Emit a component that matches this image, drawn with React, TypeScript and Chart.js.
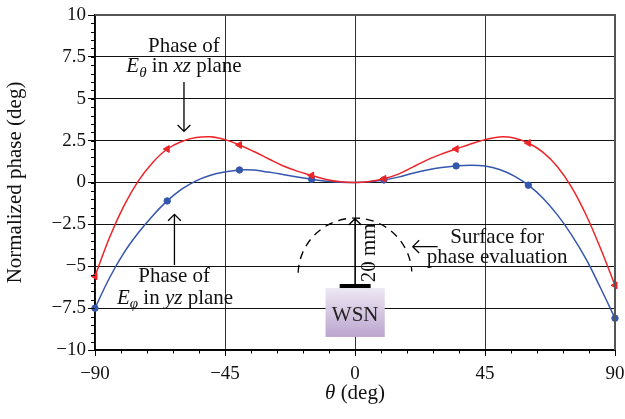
import React, { useEffect, useRef } from 'react';
import { Chart, registerables } from 'chart.js';

Chart.register(...registerables);

// ---- data ----
const thetaDeg = [
  -90, -85, -80, -75, -70, -65, -60, -55, -50, -45, -40, -35, -30, -25, -20, -15, -10, -5, 0,
  5, 10, 15, 20, 25, 30, 35, 40, 45, 50, 55, 60, 65, 70, 75, 80, 85, 90,
];
const phaseEthetaXZ = [
  -5.6, -3.3, -1.4, 0.1, 1.2, 2.0, 2.45, 2.68, 2.73, 2.56, 2.24, 1.85, 1.42, 1.0, 0.68, 0.42, 0.18, 0.04, 0,
  0.06, 0.22, 0.5, 0.92, 1.35, 1.7, 2.0, 2.3, 2.56, 2.72, 2.66, 2.36, 1.81, 0.96, -0.29, -1.94, -3.94, -6.14,
];
const phaseEphiYZ = [
  -7.5, -5.7, -4.2, -3.0, -1.98, -1.1, -0.4, 0.1, 0.43, 0.63, 0.75, 0.74, 0.62, 0.48, 0.33, 0.19, 0.08, 0.02, 0,
  0.04, 0.15, 0.32, 0.55, 0.75, 0.9, 0.99, 1.03, 0.98, 0.78, 0.4, -0.16, -0.92, -1.92, -3.14, -4.58, -6.3, -8.1,
];
const markerThetas = [-90, -65, -40, -15, 10, 35, 60, 90];

const xMin = -90, xMax = 90, xMajorStep = 45, xMinorStep = 9;
const yMin = -10, yMax = 10, yMajorStep = 2.5, yMinorStep = 0.5;

const FONT = '"Liberation Serif", "Times New Roman", serif';
const RED = 'rgb(238,36,40)';
const BLUE = 'rgb(52,86,172)';
const TXT = 21;

type Seg = { t: string; i?: boolean; sub?: boolean };

function drawRich(ctx: CanvasRenderingContext2D, segs: Seg[], cx: number, cy: number, size: number) {
  const fontFor = (s: Seg) => `${s.i ? 'italic ' : ''}${s.sub ? Math.round(size * 0.7) : size}px ${FONT}`;
  let total = 0;
  const widths = segs.map((s) => {
    ctx.font = fontFor(s);
    const w = ctx.measureText(s.t).width;
    total += w;
    return w;
  });
  let x = cx - total / 2;
  ctx.textAlign = 'left';
  ctx.textBaseline = 'middle';
  segs.forEach((s, k) => {
    ctx.font = fontFor(s);
    ctx.fillText(s.t, x, cy + (s.sub ? size * 0.3 : 0));
    x += widths[k];
  });
}

function drawArrow(ctx: CanvasRenderingContext2D, x1: number, y1: number, x2: number, y2: number, head = 9) {
  const a = Math.atan2(y2 - y1, x2 - x1);
  ctx.beginPath();
  ctx.moveTo(x1, y1);
  ctx.lineTo(x2, y2);
  ctx.moveTo(x2 - head * Math.cos(a - Math.PI / 4), y2 - head * Math.sin(a - Math.PI / 4));
  ctx.lineTo(x2, y2);
  ctx.lineTo(x2 - head * Math.cos(a + Math.PI / 4), y2 - head * Math.sin(a + Math.PI / 4));
  ctx.stroke();
}

const decorPlugin = {
  id: 'decor',
  afterDraw(chart: any) {
    const ctx: CanvasRenderingContext2D = chart.ctx;
    const { left, right, top, bottom } = chart.chartArea;
    const xs = chart.scales.x;
    const ys = chart.scales.y;
    const X = (v: number) => xs.getPixelForValue(v);
    const Y = (v: number) => ys.getPixelForValue(v);
    ctx.save();

    // top & right frame
    ctx.strokeStyle = '#555';
    ctx.lineWidth = 2;
    ctx.beginPath();
    ctx.moveTo(left, top);
    ctx.lineTo(right, top);
    ctx.lineTo(right, bottom);
    ctx.stroke();

    // minor ticks
    ctx.strokeStyle = '#000';
    ctx.lineWidth = 1;
    ctx.beginPath();
    for (let v = xMin; v <= xMax + 1e-9; v += xMinorStep) {
      const px = Math.round(X(v)) + 0.5;
      ctx.moveTo(px, bottom);
      ctx.lineTo(px, bottom + 3.5);
    }
    for (let v = yMin; v <= yMax + 1e-9; v += yMinorStep) {
      const py = Math.round(Y(v)) + 0.5;
      ctx.moveTo(left - 4, py);
      ctx.lineTo(left, py);
    }
    ctx.stroke();

    ctx.fillStyle = '#111';
    // x title with italic theta
    drawRich(ctx, [{ t: 'θ', i: true }, { t: ' (deg)' }], (left + right) / 2, bottom + 43, TXT);

    // annotation: E theta in xz plane
    drawRich(ctx, [{ t: 'Phase of' }], X(-59.2), Y(8.1), TXT);
    drawRich(ctx, [{ t: 'E', i: true }, { t: 'θ', i: true, sub: true }, { t: ' in ' }, { t: 'xz', i: true }, { t: ' plane' }], X(-59.2), Y(6.9), TXT);
    ctx.strokeStyle = '#000';
    ctx.lineWidth = 1.3;
    drawArrow(ctx, X(-59.2), Y(6.0), X(-59.2), Y(3.05), 9);

    // annotation: E phi in yz plane
    drawRich(ctx, [{ t: 'Phase of' }], X(-62.6), Y(-5.64), TXT);
    drawRich(ctx, [{ t: 'E', i: true }, { t: 'φ', i: true, sub: true }, { t: ' in ' }, { t: 'yz', i: true }, { t: ' plane' }], X(-62.3), Y(-6.9), TXT);
    drawArrow(ctx, X(-62.5), Y(-4.93), X(-62.5), Y(-1.9), 9);

    // dashed surface
    const cx = X(0), cy = Y(-5.52);
    const r = X(19.7) - X(0);
    ctx.setLineDash([8, 6]);
    ctx.lineWidth = 1.3;
    ctx.beginPath();
    ctx.arc(cx, cy, r, Math.PI + 0.04, 2 * Math.PI - 0.06);
    ctx.stroke();
    ctx.setLineDash([]);

    // 20 mm arrow
    drawArrow(ctx, X(0), Y(-6.12), X(0), Y(-2.16), 9);
    ctx.save();
    ctx.translate(X(4.85), Y(-4.2));
    ctx.rotate(-Math.PI / 2);
    ctx.font = `${TXT}px ${FONT}`;
    ctx.textAlign = 'center';
    ctx.textBaseline = 'middle';
    ctx.fillText('20 mm', 0, 0);
    ctx.restore();

    // bar
    ctx.fillStyle = '#000';
    ctx.fillRect(X(-5.3), Y(-6.06), X(5.4) - X(-5.3), Y(-6.42) - Y(-6.06));

    // WSN box
    const bx0 = X(-10.2), bx1 = X(10.3), by0 = Y(-6.3), by1 = Y(-9.22);
    const g = ctx.createLinearGradient(0, by0, 0, by1);
    g.addColorStop(0, '#eee8f4');
    g.addColorStop(1, '#bba5ce');
    ctx.fillStyle = g;
    ctx.fillRect(bx0, by0, bx1 - bx0, by1 - by0);
    ctx.fillStyle = '#222';
    drawRich(ctx, [{ t: 'WSN' }], (bx0 + bx1) / 2, Y(-7.95), TXT);

    // surface label
    ctx.fillStyle = '#111';
    drawRich(ctx, [{ t: 'Surface for' }], X(49.2), Y(-3.3), TXT);
    drawRich(ctx, [{ t: 'phase evaluation' }], X(49.2), Y(-4.45), TXT);
    ctx.strokeStyle = '#000';
    ctx.lineWidth = 1.3;
    drawArrow(ctx, X(28.6), Y(-3.83), X(20.0), Y(-3.83), 9);

    ctx.restore();
  },
};

const fmt = (v: number) => String(v).replace('-', '\u2212');

export default function App() {
  const ref = useRef<HTMLCanvasElement | null>(null);
  useEffect(() => {
    if (!ref.current) return;
    const isMarker = (ctx: any) => markerThetas.includes(thetaDeg[ctx.dataIndex]);
    const chart = new Chart(ref.current, {
      type: 'line',
      data: {
        datasets: [
          {
            label: 'E_theta xz',
            data: thetaDeg.map((t, k) => ({ x: t, y: phaseEthetaXZ[k] })),
            borderColor: RED,
            backgroundColor: RED,
            borderWidth: 1.5,
            tension: 0.4,
            pointStyle: 'triangle',
            pointRotation: 270,
            pointRadius: (c: any) => (isMarker(c) ? 4 : 0),
            pointBorderWidth: 1,
            clip: 6,
          } as any,
          {
            label: 'E_phi yz',
            data: thetaDeg.map((t, k) => ({ x: t, y: phaseEphiYZ[k] })),
            borderColor: BLUE,
            backgroundColor: BLUE,
            borderWidth: 1.5,
            tension: 0.4,
            pointStyle: 'circle',
            pointRadius: (c: any) => (isMarker(c) ? 3.2 : 0),
            pointBorderWidth: 1,
            clip: 6,
          } as any,
        ],
      },
      options: {
        animation: false,
        responsive: false,
        maintainAspectRatio: false,
        layout: { padding: { left: 0, right: 10, top: 15, bottom: 0 } },
        plugins: { legend: { display: false }, tooltip: { enabled: false } },
        scales: {
          x: {
            type: 'linear',
            min: xMin,
            max: xMax,
            afterFit: (s: any) => {
              s.height = 69;
              s.paddingLeft = 0;
              s.paddingRight = 0;
            },
            ticks: {
              stepSize: xMajorStep,
              autoSkip: false,
              maxRotation: 0,
              padding: 7,
              color: '#111',
              font: { family: FONT, size: 19 },
              callback: (v: any) => fmt(Number(v)),
            },
            grid: { color: '#333', lineWidth: 1, tickLength: 6, tickColor: '#000' },
            border: { color: '#000', width: 1.5 },
          },
          y: {
            type: 'linear',
            min: yMin,
            max: yMax,
            afterFit: (s: any) => {
              s.width = 95;
              s.paddingTop = 0;
              s.paddingBottom = 0;
            },
            ticks: {
              stepSize: yMajorStep,
              autoSkip: false,
              padding: 2,
              color: '#111',
              font: { family: FONT, size: 19 },
              callback: (v: any) => fmt(Number(v)),
            },
            grid: { color: '#111', lineWidth: 1, tickLength: 7, tickColor: '#000' },
            border: { color: '#000', width: 1.5 },
            title: {
              display: true,
              text: 'Normalized phase (deg)',
              color: '#111',
              font: { family: FONT, size: TXT },
              padding: { top: 3, bottom: 3 },
            },
          },
        },
      },
      plugins: [decorPlugin],
    });
    return () => chart.destroy();
  }, []);
  return (
    <div style={{ position: 'absolute', left: 0, top: 0, width: 625, height: 419, background: '#fff' }}>
      <canvas ref={ref} width={625} height={419} style={{ width: 625, height: 419, display: 'block' }} />
    </div>
  );
}
